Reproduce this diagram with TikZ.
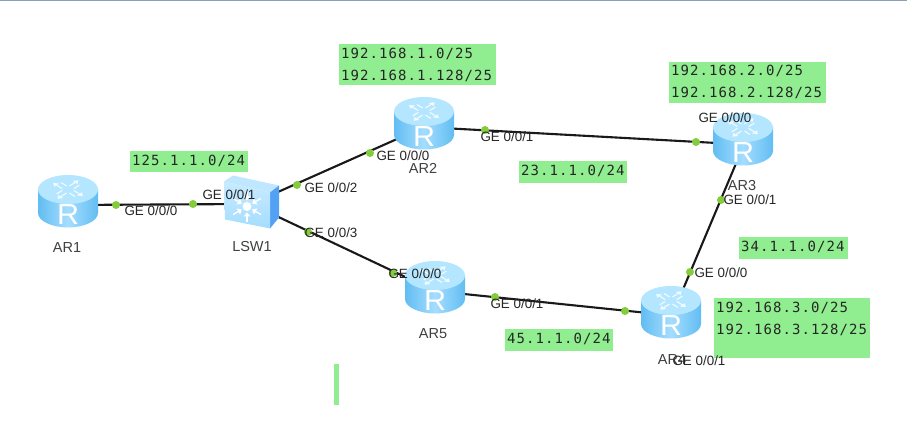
\documentclass[tikz,border=0pt]{standalone}
\usepackage{fontspec}
\setmainfont{Liberation Sans}
\newfontfamily\monof[LetterSpace=7.6]{DejaVu Sans Mono}
\definecolor{lgreen}{HTML}{90EE90}
\definecolor{dotg}{HTML}{84CC3C}
\definecolor{ctop}{HTML}{B4E6FF}
\definecolor{cedge}{HTML}{62BDF2}
\definecolor{cmid}{HTML}{A4DDFF}
\definecolor{topbar}{HTML}{8A9FB8}
\tikzset{
  x=1pt,y=-1pt,
  link/.style={draw=black!90,line width=2.1pt},
  dotn/.style={circle,fill=dotg,draw=none,minimum size=8pt,inner sep=0pt},
  port/.style={font=\fontsize{13.4}{13.4}\selectfont,text=black!85,inner sep=0pt},
  devname/.style={font=\fontsize{14.5}{14.5}\selectfont,text=black!75,inner sep=0pt},
  netbox/.style={fill=lgreen,draw=none},
  nettext/.style={font=\monof\fontsize{14}{22}\selectfont,text=black!85,inner sep=0pt,align=left,anchor=north west},
  pics/routericon/.style={code={
    \path[left color=cedge,right color=cedge,middle color=cmid]
      (-30,-11.5) -- (-30,12) .. controls (-30,20) and (-16,26.5) .. (0,26.5)
      .. controls (16,26.5) and (30,20) .. (30,12) -- (30,-11.5) -- cycle;
    \path[fill=ctop] (-30,-11.5) .. controls (-30,-19.5) and (-16.5,-26) .. (0,-26)
      .. controls (16.5,-26) and (30,-19.5) .. (30,-11.5)
      .. controls (30,-3.5) and (16.5,3) .. (0,3)
      .. controls (-16.5,3) and (-30,-3.5) .. (-30,-11.5) -- cycle;
    \foreach \a in {45,135,225,315}{
      \begin{scope}[shift={(0,-11.5)},yscale=.62,rotate=\a]
        \draw[white,opacity=.85,line width=1.1pt] (5,-3) -- (13,-3);
        \draw[white,opacity=.85,line width=1.1pt] (5,3) -- (13,3);
        \path[fill=white,opacity=.85] (13,-6.5) -- (18,-3) -- (13,.5) -- cycle;
      \end{scope}
    }
    \node[text=white,inner sep=0pt,font=\fontsize{29}{29}\selectfont,xscale=1.05] at (0,14) {R};
  }},
  pics/switchicon/.style={code={
    \path[fill=cmid!70!white] (-27,-21.5) -- (-18,-27.5) -- (28,-17.5) -- (19,-10.5) -- cycle;
    \path[fill=cedge!85!blue] (19,-10.5) -- (28,-17.5) -- (28,14.5) -- (19,25.5) -- cycle;
    \path[top color=cmid!60!white,bottom color=cmid] (-27,-21.5) -- (19,-10.5) -- (19,25.5) -- (-26,16.5) -- cycle;
    \path[fill=white] (-4,3.5) circle[radius=4.5];
    \foreach \a in {30,150,270,90,210,330}{
      \begin{scope}[shift={(-4,3.5)},rotate=\a]
        \draw[white,line width=1.4pt] (8,0) -- (16,0);
        \path[fill=white] (6,0) -- (10,-3.5) -- (10,3.5) -- cycle;
      \end{scope}
    }
  }}
}
\begin{document}
\begin{tikzpicture}
\useasboundingbox (0,0) rectangle (907,430);
\path[fill=white] (0,0) rectangle (907,430);
\path[fill=topbar] (0,0) rectangle (907,1.2);
% anchors of the devices
\coordinate (AR1) at (68,205);
\coordinate (LSW1) at (251,204);
\coordinate (AR2) at (424,127);
\coordinate (AR3) at (744,144.5);
\coordinate (AR4) at (672,315.5);
\coordinate (AR5) at (435,291);
% green boxes
\path[netbox] (339,44) rectangle (496,85.5);
\path[netbox] (669,62) rectangle (825.5,103);
\path[netbox] (130,151) rectangle (248,172);
\path[netbox] (519,161) rectangle (627,183);
\path[netbox] (739,237) rectangle (848,259);
\path[netbox] (505,329) rectangle (613,351);
\path[netbox] (714,298) rectangle (870,358);
\path[netbox] (334,364) rectangle (339,405);
\node[nettext] (n1) at (341,47.5) {192.168.1.0/25\\192.168.1.128/25};
\node[nettext] (n2) at (671,65) {192.168.2.0/25\\192.168.2.128/25};
\node[nettext] (n3) at (716,302) {192.168.3.0/25\\192.168.3.128/25};
\node[nettext] (n4) at (132,155) {125.1.1.0/24};
\node[nettext] (n5) at (521,165) {23.1.1.0/24};
\node[nettext] (n6) at (741,241) {34.1.1.0/24};
\node[nettext] (n7) at (507,333) {45.1.1.0/24};
% links
\draw[link] (AR1) -- (LSW1);
\draw[link] (LSW1) -- (AR2);
\draw[link] (LSW1) -- (AR5);
\draw[link] (AR2) -- (AR3);
\draw[link] (AR3) -- (AR4);
\draw[link] (AR5) -- (AR4);
% devices
\pic at (68,201) {routericon};
\pic at (424,123) {routericon};
\pic at (743,139) {routericon};
\pic at (671,312) {routericon};
\pic at (435,287) {routericon};
\pic at (251,203) {switchicon};
% port dots
\node[dotn] (d1) at (116,205) {};
\node[dotn] (d2) at (193,204) {};
\node[dotn] (d3) at (297,185) {};
\node[dotn] (d4) at (370,153) {};
\node[dotn] (d5) at (308,232) {};
\node[dotn] (d6) at (393,273) {};
\node[dotn] (d7) at (485,130) {};
\node[dotn] (d8) at (696,142) {};
\node[dotn] (d9) at (721,200) {};
\node[dotn] (d10) at (690,272) {};
\node[dotn] (d11) at (495,297) {};
\node[dotn] (d12) at (625,311) {};
% port labels
\node[port] (p1) at (151,211) {GE 0/0/0};
\node[port] (p2) at (229,195) {GE 0/0/1};
\node[port] (p3) at (331,188) {GE 0/0/2};
\node[port] (p4) at (331,233) {GE 0/0/3};
\node[port] (p5) at (403,156) {GE 0/0/0};
\node[port] (p6) at (415,274) {GE 0/0/0};
\node[port] (p7) at (507,137) {GE 0/0/1};
\node[port] (p8) at (517,304) {GE 0/0/1};
\node[port] (p9) at (725,118) {GE 0/0/0};
\node[port] (p10) at (750,200) {GE 0/0/1};
\node[port] (p11) at (721,273) {GE 0/0/0};
% device names
\node[devname] (t1) at (67,248) {AR1};
\node[devname] (t2) at (252,247) {LSW1};
\node[devname] (t3) at (423,168) {AR2};
\node[devname] (t4) at (742,186) {AR3};
\node[devname] (t5) at (672,360) {AR4};
\node[devname] (t6) at (433,334) {AR5};
\node[port] (p12) at (699,361) {GE 0/0/1};
\end{tikzpicture}
\end{document}
